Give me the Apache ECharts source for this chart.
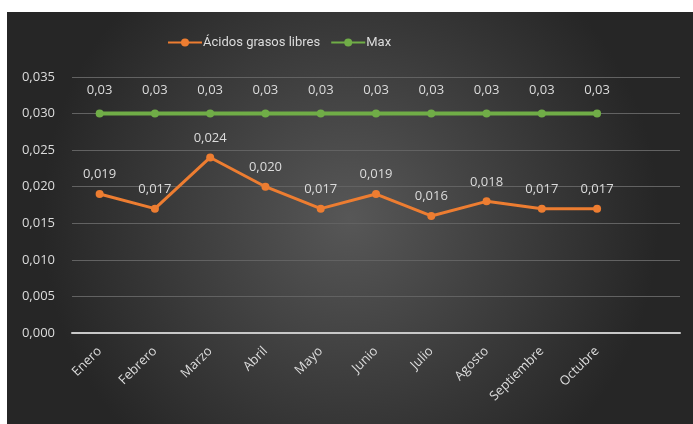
<!DOCTYPE html>
<html><head><meta charset="utf-8">
<script src="https://cdn.jsdelivr.net/npm/echarts@6/dist/echarts.min.js"></script>
<style>
html,body{margin:0;padding:0;background:#fff;width:693px;height:424px;overflow:hidden}
#c{position:absolute;left:7px;top:12px;width:686px;height:412px}
</style></head><body>
<div id="c"></div>
<script>
var categories = ['Enero','Febrero','Marzo','Abril','Mayo','Junio','Julio','Agosto','Septiembre','Octubre',''];
var acidos = [0.019,0.017,0.024,0.020,0.017,0.019,0.016,0.018,0.017,0.017];
var maxVals = [0.03,0.03,0.03,0.03,0.03,0.03,0.03,0.03,0.03,0.03];
var seriesNames = ['Ácidos grasos libres','Max'];

function fmt(v, d){ return v.toFixed(d).replace('.', ','); }
var font = 'Open Sans';
var txt = '#dcdcdc';
var chart = echarts.init(document.getElementById('c'));
chart.setOption({
  backgroundColor: {
    type:'radial', x:0.5, y:0.5, r:0.75,
    colorStops:[{offset:0,color:'#575757'},{offset:1,color:'#262626'}]
  },
  textStyle:{fontFamily:font},
  legend:{
    top:19, left:155, itemWidth:34, itemHeight:10, itemGap:10,
    textStyle:{color:txt, fontSize:13, fontFamily:'Roboto', padding:[0,0,0,-4]},
    data: seriesNames
  },
  grid:{left:65, right:13, top:65, bottom:91, containLabel:false},
  xAxis:{
    type:'category', data:categories, boundaryGap:true,
    axisLine:{lineStyle:{color:'#c8c8c8', width:2}},
    axisTick:{show:false},
    axisLabel:{rotate:45, color:txt, fontSize:13, margin:16, fontFamily:font, interval:0}
  },
  yAxis:{
    type:'value', min:0, max:0.035, interval:0.005,
    axisLine:{show:false}, axisTick:{show:false},
    splitLine:{lineStyle:{color:'#626262', width:1}},
    axisLabel:{color:txt, fontSize:13, margin:17, fontFamily:font,
      formatter:function(v){return fmt(v,3);}}
  },
  series:[
    {name:seriesNames[0], type:'line', data:acidos, color:'#ED7D31',
     symbol:'circle', symbolSize:8,
     lineStyle:{width:3, color:'#ED7D31'}, itemStyle:{color:'#ED7D31'},
     label:{show:true, position:'top', distance:9, color:txt, fontSize:13, fontFamily:font,
       formatter:function(p){return fmt(p.value,3);}}},
    {name:seriesNames[1], type:'line', data:maxVals, color:'#70AD47',
     symbol:'circle', symbolSize:8,
     lineStyle:{width:4, color:'#70AD47'}, itemStyle:{color:'#70AD47'},
     label:{show:true, position:'top', distance:13, color:txt, fontSize:13, fontFamily:font,
       formatter:function(p){return fmt(p.value,2);}}}
  ]
});
</script></body></html>
